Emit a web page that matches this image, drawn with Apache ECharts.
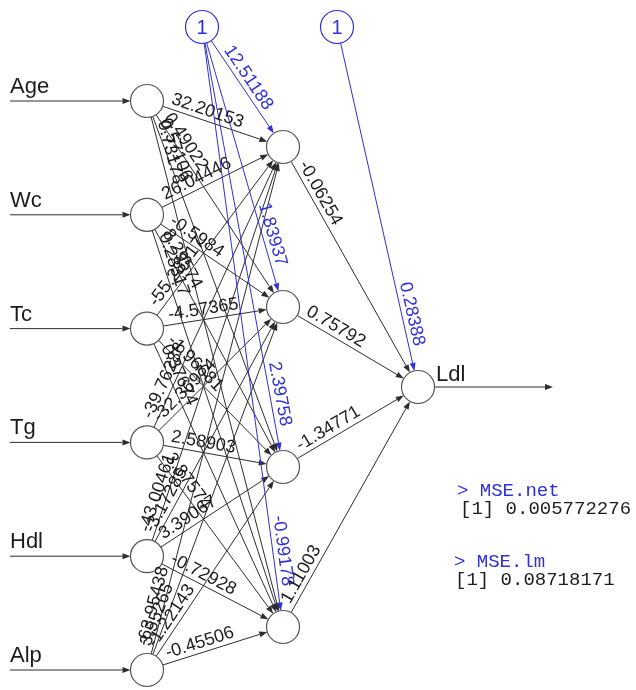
<!DOCTYPE html>
<html><head><meta charset="utf-8">
<script src="https://cdn.jsdelivr.net/npm/echarts@6/dist/echarts.min.js"></script>
<style>html,body{margin:0;padding:0;background:#fff}#c{width:636px;height:690px}</style>
</head><body><div id="c"></div>
<script>
// ---- data ----
const inputNames = ['Age', 'Wc', 'Tc', 'Tg', 'Hdl', 'Alp'];
const outputName = 'Ldl';
const hiddenCount = 4;
const wAge = [32.20153, 0.49022, 0.57106, 0.73178];
const wWc  = [26.04446, -0.5984, 8.29574, 0.28317];
const wTc  = [-55.28317, -4.57365, -1.96681, 0.37674];
const wTg  = [-39.76288, -32.36974, 2.58903, 3.87574];
const wHdl = [-43.00461, -3.17285, 3.39067, -0.72928];
const wAlp = [-63.95438, 3.55265, -1.22143, -0.45506];
const biasHidden = [12.51188, 1.83937, 2.39758, -0.99178];
const wHiddenOut = [-0.06254, 0.75792, -1.34771, 1.11003];
const biasOut = 0.28388;
const mseNetLabel = '> MSE.net';
const mseNetValue = '[1] 0.005772276';
const mseLmLabel = '> MSE.lm';
const mseLmValue = '[1] 0.08718171';

// ---- layout / style ----
const LY = {inX: 147, hidX: 283, outX: 418, inY0: 101, inStep: 113.8, hidY0: 147, hidStep: 160,
  outY: 387, biasY: 27, bias1X: 202, bias2X: 337, r: 16.5, inStartX: 10, outEndX: 553};
const BLACK = '#2e2e2e', BLUE = '#3030d8', TXT = '#1c1c1c';
const MONO = '19px "Liberation Mono", "DejaVu Sans Mono", monospace';
const inY = i => LY.inY0 + i * LY.inStep;
const hidY = j => LY.hidY0 + j * LY.hidStep;
const weightsIH = [wAge, wWc, wTc, wTg, wHdl, wAlp];

const edges = [];
inputNames.forEach((n, i) => edges.push({x1: LY.inStartX, y1: inY(i), x2: LY.inX, y2: inY(i), ts: 0, te: LY.r, color: BLACK}));
weightsIH.forEach((ws, i) => ws.forEach((w, j) => edges.push({x1: LY.inX, y1: inY(i), x2: LY.hidX, y2: hidY(j), ts: LY.r, te: LY.r, color: BLACK, label: String(w), mode: 'start', tcol: TXT})));
biasHidden.forEach((w, j) => edges.push({x1: LY.bias1X, y1: LY.biasY, x2: LY.hidX, y2: hidY(j), ts: LY.r, te: LY.r, color: BLUE, label: String(w), mode: 'end', tcol: BLUE}));
wHiddenOut.forEach((w, j) => edges.push({x1: LY.hidX, y1: hidY(j), x2: LY.outX, y2: LY.outY, ts: LY.r, te: LY.r, color: BLACK, label: String(w), mode: 'start', tcol: TXT}));
edges.push({x1: LY.bias2X, y1: LY.biasY, x2: LY.outX, y2: LY.outY, ts: LY.r, te: LY.r, color: BLUE, label: String(biasOut), mode: 'end', tcol: BLUE});
edges.push({x1: LY.outX, y1: LY.outY, x2: LY.outEndX, y2: LY.outY, ts: LY.r, te: 0, color: BLACK});

const nodes = [];
inputNames.forEach((n, i) => nodes.push({x: LY.inX, y: inY(i), color: '#555'}));
for (let j = 0; j < hiddenCount; j++) nodes.push({x: LY.hidX, y: hidY(j), color: '#555'});
nodes.push({x: LY.outX, y: LY.outY, color: '#555'});
nodes.push({x: LY.bias1X, y: LY.biasY, color: BLUE, text: '1'});
nodes.push({x: LY.bias2X, y: LY.biasY, color: BLUE, text: '1'});

const nameLabels = inputNames.map((n, i) => ({x: LY.inStartX, y: inY(i) - 3, text: n}));
nameLabels.push({x: LY.outX + 18, y: LY.outY - 1, text: outputName});

const WFONT = '18px "Liberation Sans", Arial, sans-serif';

function geom(api) {
  const p1 = api.coord([api.value(0), api.value(1)]);
  const p2 = api.coord([api.value(2), api.value(3)]);
  const dx = p2[0] - p1[0], dy = p2[1] - p1[1], len = Math.hypot(dx, dy);
  return {p1, p2, ux: dx / len, uy: dy / len, ang: Math.atan2(dy, dx)};
}

const edgeData = edges.map(e => [e.x1, e.y1, e.x2, e.y2]);

const chart = echarts.init(document.getElementById('c'), null, {renderer: 'canvas'});
chart.setOption({
  animation: false,
  backgroundColor: '#fff',
  grid: {left: 0, right: 0, top: 0, bottom: 0},
  xAxis: {type: 'value', min: 0, max: 636, show: false},
  yAxis: {type: 'value', min: 0, max: 690, inverse: true, show: false},
  graphic: [
    {type: 'text', left: 457, top: 481, style: {text: mseNetLabel, fill: BLUE, font: MONO}},
    {type: 'text', left: 460, top: 499, style: {text: mseNetValue, fill: '#1e1e1e', font: MONO}},
    {type: 'text', left: 454, top: 552, style: {text: mseLmLabel, fill: BLUE, font: MONO}},
    {type: 'text', left: 455, top: 570, style: {text: mseLmValue, fill: '#1e1e1e', font: MONO}}
  ],
  series: [
    {
      type: 'custom', coordinateSystem: 'cartesian2d', clip: false, z: 1,
      encode: {x: [0, 2], y: [1, 3]},
      data: edgeData,
      renderItem: function (params, api) {
        const e = edges[params.dataIndex];
        const g = geom(api);
        const a = [g.p1[0] + g.ux * e.ts, g.p1[1] + g.uy * e.ts];
        const b = [g.p2[0] - g.ux * e.te, g.p2[1] - g.uy * e.te];
        const ah = 8, aw = 3;
        const base = [b[0] - g.ux * ah, b[1] - g.uy * ah];
        const px = -g.uy, py = g.ux;
        return {type: 'group', children: [
          {type: 'line', shape: {x1: a[0], y1: a[1], x2: base[0], y2: base[1]}, style: {stroke: e.color, lineWidth: 1}},
          {type: 'polygon', shape: {points: [b, [base[0] + px * aw, base[1] + py * aw], [base[0] - px * aw, base[1] - py * aw]]}, style: {fill: e.color}}
        ]};
      }
    },
    {
      type: 'custom', coordinateSystem: 'cartesian2d', clip: false, z: 2,
      encode: {x: 0, y: 1},
      data: nodes.map(n => [n.x, n.y]),
      renderItem: function (params, api) {
        const n = nodes[params.dataIndex];
        const p = api.coord([api.value(0), api.value(1)]);
        const ch = [{type: 'circle', shape: {cx: p[0], cy: p[1], r: LY.r}, style: {fill: '#fff', stroke: n.color, lineWidth: 1.2}}];
        if (n.text) ch.push({type: 'text', x: p[0], y: p[1] + 1, style: {text: n.text, fill: n.color, align: 'center', verticalAlign: 'middle', font: '20px "Liberation Sans", Arial, sans-serif'}});
        return {type: 'group', children: ch};
      }
    },
    {
      type: 'custom', coordinateSystem: 'cartesian2d', clip: false, z: 3,
      encode: {x: [0, 2], y: [1, 3]},
      data: edgeData,
      renderItem: function (params, api) {
        const e = edges[params.dataIndex];
        if (!e.label) return null;
        const g = geom(api);
        let anchor, align;
        if (e.mode === 'start') { anchor = [g.p1[0] + g.ux * 23, g.p1[1] + g.uy * 23]; align = 'left'; }
        else { anchor = [g.p2[0] - g.ux * 40, g.p2[1] - g.uy * 40]; align = 'right'; }
        return {type: 'text', x: anchor[0], y: anchor[1], rotation: -g.ang,
          style: {text: e.label, x: 0, y: -1, align: align, verticalAlign: 'bottom', fill: e.tcol, font: WFONT}};
      }
    },
    {
      type: 'custom', coordinateSystem: 'cartesian2d', clip: false, z: 4,
      encode: {x: 0, y: 1},
      data: nameLabels.map(n => [n.x, n.y]),
      renderItem: function (params, api) {
        const n = nameLabels[params.dataIndex];
        const p = api.coord([api.value(0), api.value(1)]);
        return {type: 'text', x: p[0], y: p[1], style: {text: n.text, fill: '#1c1c1c', align: 'left', verticalAlign: 'bottom', font: '22px "Liberation Sans", Arial, sans-serif'}};
      }
    }
  ]
});
</script>
</body></html>
